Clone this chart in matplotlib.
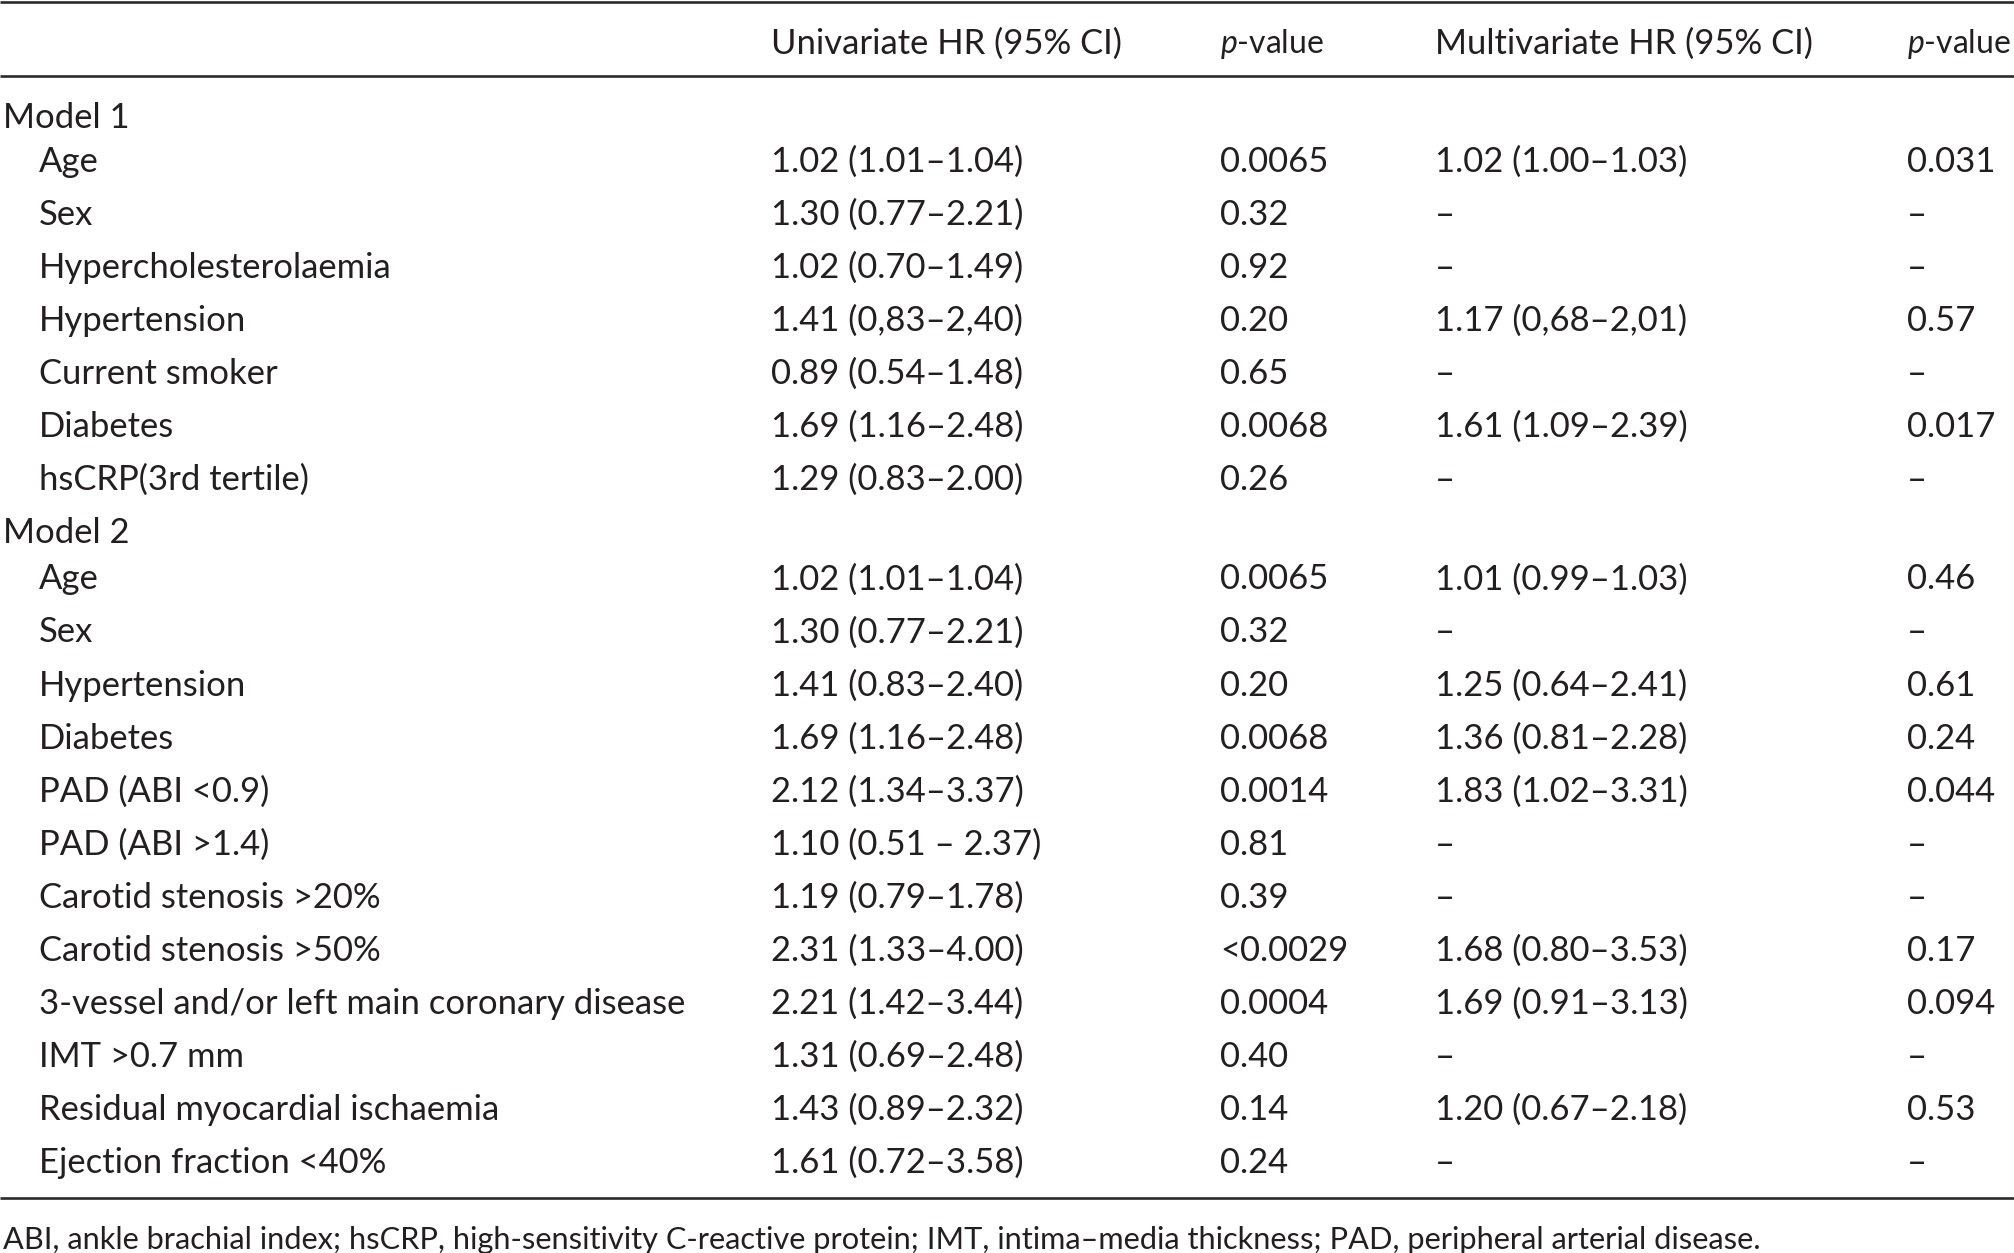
import matplotlib
matplotlib.use("Agg")
import matplotlib.pyplot as plt

plt.rcParams['font.family'] = ['Lato', 'DejaVu Sans']
plt.rcParams['mathtext.fontset'] = 'custom'
plt.rcParams['mathtext.rm'] = 'Lato'
plt.rcParams['mathtext.it'] = 'Lato:italic'

headers = ["", "Univariate HR (95% CI)", r"$\mathit{p}$-value", "Multivariate HR (95% CI)", r"$\mathit{p}$-value"]

groups = ["Model 1", "Model 2"]

m1_labels = ["Age", "Sex", "Hypercholesterolaemia", "Hypertension", "Current smoker", "Diabetes", "hsCRP(3rd tertile)"]
m1_uni = ["1.02 (1.01–1.04)", "1.30 (0.77–2.21)", "1.02 (0.70–1.49)", "1.41 (0,83–2,40)", "0.89 (0.54–1.48)", "1.69 (1.16–2.48)", "1.29 (0.83–2.00)"]
m1_up = ["0.0065", "0.32", "0.92", "0.20", "0.65", "0.0068", "0.26"]
m1_multi = ["1.02 (1.00–1.03)", "–", "–", "1.17 (0,68–2,01)", "–", "1.61 (1.09–2.39)", "–"]
m1_mp = ["0.031", "–", "–", "0.57", "–", "0.017", "–"]

m2_labels = ["Age", "Sex", "Hypertension", "Diabetes", "PAD (ABI <0.9)", "PAD (ABI >1.4)", "Carotid stenosis >20%",
             "Carotid stenosis >50%", "3-vessel and/or left main coronary disease", "IMT >0.7 mm",
             "Residual myocardial ischaemia", "Ejection fraction <40%"]
m2_uni = ["1.02 (1.01–1.04)", "1.30 (0.77–2.21)", "1.41 (0.83–2.40)", "1.69 (1.16–2.48)", "2.12 (1.34–3.37)",
          "1.10 (0.51 – 2.37)", "1.19 (0.79–1.78)", "2.31 (1.33–4.00)", "2.21 (1.42–3.44)", "1.31 (0.69–2.48)",
          "1.43 (0.89–2.32)", "1.61 (0.72–3.58)"]
m2_up = ["0.0065", "0.32", "0.20", "0.0068", "0.0014", "0.81", "0.39", "<0.0029", "0.0004", "0.40", "0.14", "0.24"]
m2_multi = ["1.01 (0.99–1.03)", "–", "1.25 (0.64–2.41)", "1.36 (0.81–2.28)", "1.83 (1.02–3.31)", "–", "–",
            "1.68 (0.80–3.53)", "1.69 (0.91–3.13)", "–", "1.20 (0.67–2.18)", "–"]
m2_mp = ["0.46", "–", "0.61", "0.24", "0.044", "–", "–", "0.17", "0.094", "–", "0.53", "–"]

footnote = ("ABI, ankle brachial index; hsCRP, high-sensitivity C-reactive protein; "
            "IMT, intima–media thickness; PAD, peripheral arterial disease.")

W, H = 2015, 1253
fig = plt.figure(figsize=(W / 100, H / 100), dpi=100)
ax = fig.add_axes([0, 0, 1, 1])
ax.set_xlim(0, W)
ax.set_ylim(H, 0)
ax.axis('off')

TXT = '#231f20'
LINE = '#2b2b2b'

renderer = fig.canvas.get_renderer()

def fit(s, target):
    t = ax.text(0, 0, s, fontsize=20)
    w = t.get_window_extent(renderer).width
    t.remove()
    return 20 * target / w

fs = fit("3-vessel and/or left main coronary disease", 646)
fs_foot = fit(footnote, 1767)
fs_p = fit(headers[2], 104)

col_x = [39, 771, 1220, 1435, 1907]
group_x = 3

# rules
for yl in (2, 76, 1198):
    ax.plot([0, W], [yl, yl], color=LINE, lw=1.9, solid_capstyle='butt')

def put(x, yc, s, size=None):
    size = size or fs
    c = fs * 100 / 72 * 0.72
    ax.text(x, yc + c / 2, s, fontsize=size, color=TXT, ha='left', va='baseline')

# header
for i, h in enumerate(headers):
    if h:
        put(col_x[i], 41, h, size=fs_p if i in (2, 4) else fs)

scale = 2015 / 1568
pitch = 41.27 * scale
put(group_x, 90 * scale, groups[0])
y = 124 * scale
for lab, a, b, c, d in zip(m1_labels, m1_uni, m1_up, m1_multi, m1_mp):
    for x, s in zip(col_x, [lab, a, b, c, d]):
        put(x, y, s)
    y += pitch
put(group_x, 413 * scale, groups[1])
y = 449 * scale
for lab, a, b, c, d in zip(m2_labels, m2_uni, m2_up, m2_multi, m2_mp):
    for x, s in zip(col_x, [lab, a, b, c, d]):
        put(x, y, s)
    y += pitch

put(3, 962 * scale, footnote, size=fs_foot)

fig.savefig("out.png", dpi=100, facecolor='white')
